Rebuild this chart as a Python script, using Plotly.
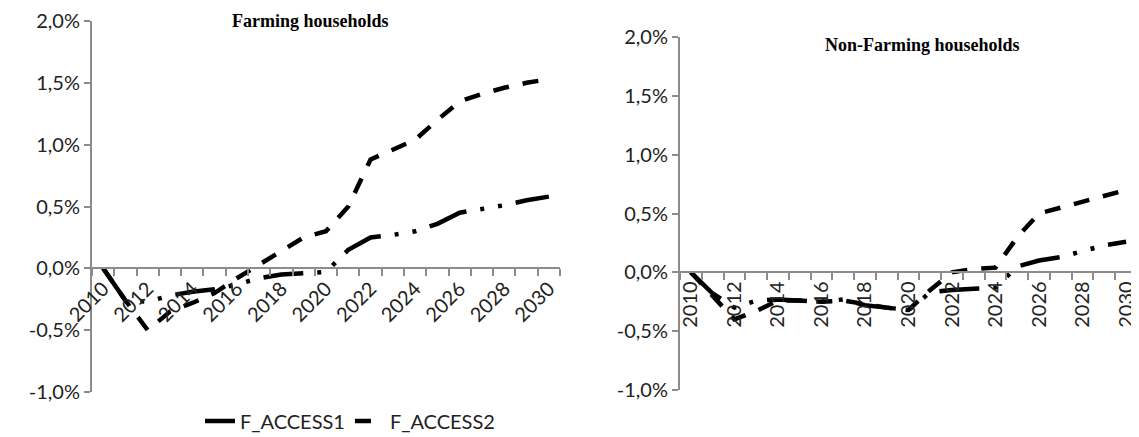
import plotly.graph_objects as go

years = list(range(2010, 2031))

# Farming households (% change)
farm_access1 = [0.0, -0.26, -0.27, -0.22, -0.19, -0.17, -0.13, -0.08, -0.05, -0.04, -0.03,
                0.15, 0.25, 0.27, 0.30, 0.36, 0.45, 0.48, 0.51, 0.55, 0.58]
farm_access2 = [0.0, -0.26, -0.50, -0.35, -0.28, -0.20, -0.08, 0.03, 0.15, 0.25, 0.30,
                0.50, 0.88, 0.96, 1.04, 1.20, 1.35, 1.41, 1.46, 1.50, 1.53]

# Non-farming households (% change)
nonfarm_access1 = [0.0, -0.18, -0.30, -0.24, -0.23, -0.24, -0.25, -0.23, -0.28, -0.30, -0.32,
                   -0.17, -0.15, -0.14, -0.13, 0.05, 0.10, 0.13, 0.18, 0.23, 0.26]
nonfarm_access2 = [0.0, -0.20, -0.40, -0.33, -0.24, -0.24, -0.25, -0.24, -0.27, -0.30, -0.32,
                   -0.15, 0.0, 0.03, 0.04, 0.30, 0.50, 0.55, 0.60, 0.65, 0.70]

y_tickvals = [-1.0, -0.5, 0.0, 0.5, 1.0, 1.5, 2.0]
y_ticktext = ['-1,0%', '-0,5%', '0,0%', '0,5%', '1,0%', '1,5%', '2,0%']
x_tickvals = list(range(2010, 2031, 2))
x_ticktext = [str(y) for y in x_tickvals]

dash1 = '40px,14px,4px,14px,4px,14px'
dash2 = '16px,14px'
tick_font = dict(family='Lato, Open Sans, sans-serif', size=20, color='#222222')
axis_grey = '#8c8c8c'

fig = go.Figure()

fig.add_trace(go.Scatter(x=years, y=farm_access1, mode='lines', name='F_ACCESS1',
                         line=dict(color='black', width=4.5, dash=dash1),
                         xaxis='x', yaxis='y'))
fig.add_trace(go.Scatter(x=years, y=farm_access2, mode='lines', name='F_ACCESS2',
                         line=dict(color='black', width=4.5, dash=dash2),
                         xaxis='x', yaxis='y'))
fig.add_trace(go.Scatter(x=years, y=nonfarm_access1, mode='lines', showlegend=False,
                         line=dict(color='black', width=4.5, dash=dash1),
                         xaxis='x2', yaxis='y2'))
fig.add_trace(go.Scatter(x=years, y=nonfarm_access2, mode='lines', showlegend=False,
                         line=dict(color='black', width=4.5, dash=dash2),
                         xaxis='x2', yaxis='y2'))

# page body margin shifts the plot by 8px, so measure positions from there
H, W, OFF = 437, 1139, 8
px = lambda v: (v - OFF) / W
py = lambda v: 1 - (v - OFF) / H

left_y = [py(392), py(21)]
right_y = [py(390), py(37)]
left_zero = left_y[0] + (left_y[1] - left_y[0]) / 3
right_zero = right_y[0] + (right_y[1] - right_y[0]) / 3

def x_axis(domain, pos, angle):
    return dict(domain=domain, range=[2009.5, 2030.5], anchor='free', position=pos,
                tickvals=x_tickvals, ticktext=x_ticktext, tickangle=angle,
                ticks='', showline=True, linecolor=axis_grey, linewidth=2,
                showgrid=False, zeroline=False, tickfont=tick_font, automargin=False,
                ticklabeloverflow='allow',
                minor=dict(ticks='outside', tick0=2009.5, dtick=1, ticklen=7,
                           tickcolor=axis_grey, tickwidth=2))

def y_axis(domain, anchor):
    return dict(domain=domain, range=[-1, 2], anchor=anchor, tickvals=y_tickvals,
                ticktext=y_ticktext, ticks='outside', ticklen=6, tickcolor=axis_grey,
                tickwidth=2, showline=True, linecolor=axis_grey, linewidth=2,
                showgrid=False, zeroline=False, tickfont=tick_font, automargin=False,
                ticklabeloverflow='allow')

fig.update_layout(
    width=W, height=H,
    margin=dict(l=0, r=0, t=0, b=0),
    plot_bgcolor='white', paper_bgcolor='white',
    xaxis=x_axis([px(92), px(560)], left_zero, -45),
    yaxis=y_axis(left_y, 'x'),
    xaxis2=x_axis([px(680), px(1137)], right_zero, -90),
    yaxis2=y_axis(right_y, 'x2'),
    legend=dict(orientation='h', x=px(350), y=py(421), xanchor='center', yanchor='middle',
                font=dict(family='Lato, Open Sans, sans-serif', size=20, color='#222222'),
                bgcolor='rgba(0,0,0,0)'),
    annotations=[
        dict(text='<b>Farming households</b>', x=px(310), y=py(21), xref='paper', yref='paper',
             xanchor='center', yanchor='middle', showarrow=False,
             font=dict(family='Liberation Serif', size=18, color='black')),
        dict(text='<b>Non-Farming households</b>', x=px(922), y=py(45), xref='paper', yref='paper',
             xanchor='center', yanchor='middle', showarrow=False,
             font=dict(family='Liberation Serif', size=18, color='black')),
    ],
)

fig.write_html('out.html')
